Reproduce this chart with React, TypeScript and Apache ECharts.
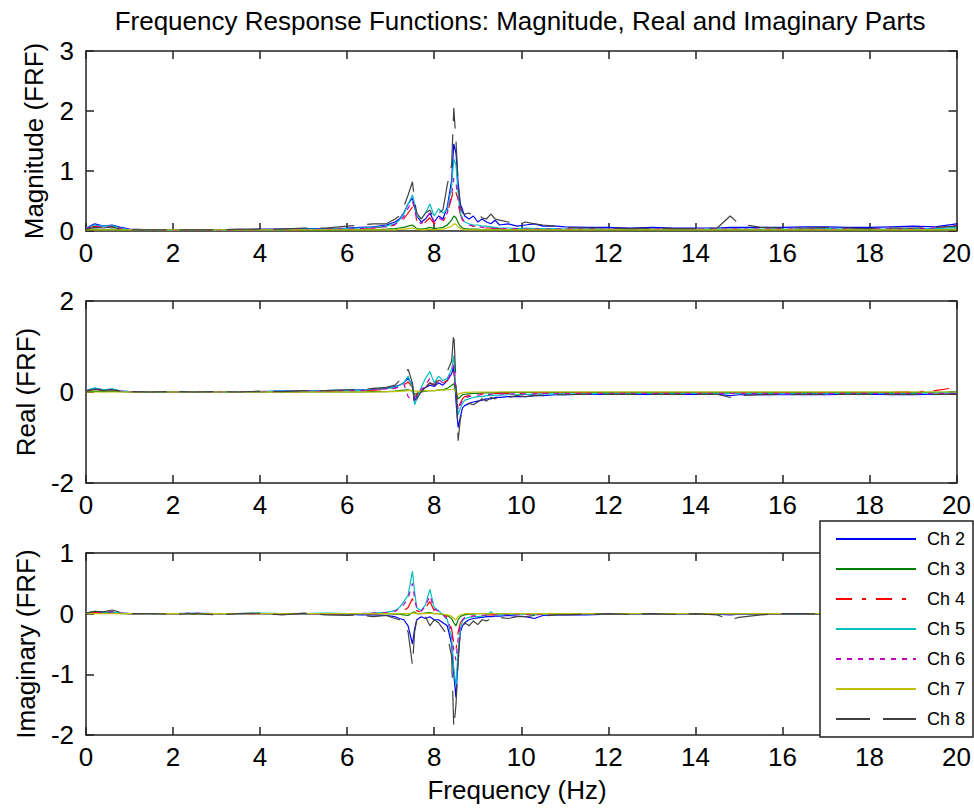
import React, { useEffect, useRef } from "react";
import * as echarts from "echarts";

// Frequency grid (Hz)
const freq = [
  0, 0.2, 0.4, 0.6, 0.8, 1.0, 1.5, 2.0, 2.5, 3.0,
  3.5, 4.0, 4.5, 5.0, 5.5, 6.0, 6.3, 6.6, 6.9, 7.1,
  7.2, 7.3, 7.4, 7.5, 7.55, 7.6, 7.7, 7.8, 7.9, 8.0,
  8.1, 8.2, 8.3, 8.4, 8.45, 8.5, 8.55, 8.6, 8.65, 8.7,
  8.8, 8.9, 9.0, 9.1, 9.2, 9.3, 9.4, 9.5, 9.7, 9.9,
  10.1, 10.3, 10.5, 10.8, 11.0, 11.5, 12.0, 12.5, 13.0, 13.5,
  14.0, 14.5, 14.8, 15.0, 15.5, 16.0, 16.5, 17.0, 17.5, 18.0,
  18.5, 19.0, 19.5, 20.0,
];

const channels = ["Ch 2", "Ch 3", "Ch 4", "Ch 5", "Ch 6", "Ch 7", "Ch 8"];

// ---------- Magnitude ----------
const magCh2 = [
  0.05, 0.12, 0.08, 0.10, 0.06, 0.03, 0.02, 0.02, 0.02, 0.02,
  0.02, 0.03, 0.03, 0.04, 0.04, 0.05, 0.06, 0.07, 0.10, 0.15,
  0.20, 0.30, 0.45, 0.55, 0.40, 0.25, 0.15, 0.20, 0.30, 0.15,
  0.25, 0.20, 0.40, 0.85, 1.45, 1.30, 0.80, 0.45, 0.35, 0.25,
  0.20, 0.25, 0.15, 0.20, 0.15, 0.12, 0.18, 0.10, 0.12, 0.08,
  0.10, 0.12, 0.08, 0.08, 0.07, 0.06, 0.06, 0.05, 0.06, 0.05,
  0.05, 0.05, 0.06, 0.06, 0.06, 0.06, 0.07, 0.07, 0.06, 0.06,
  0.07, 0.08, 0.07, 0.12,
];
const magCh3 = [
  0.02, 0.03, 0.02, 0.03, 0.02, 0.01, 0.01, 0.01, 0.01, 0.01,
  0.01, 0.01, 0.01, 0.01, 0.01, 0.02, 0.02, 0.02, 0.03, 0.04,
  0.05, 0.06, 0.08, 0.10, 0.07, 0.04, 0.03, 0.04, 0.06, 0.04,
  0.05, 0.06, 0.10, 0.18, 0.25, 0.22, 0.14, 0.08, 0.05, 0.04,
  0.03, 0.03, 0.03, 0.02, 0.02, 0.02, 0.02, 0.02, 0.02, 0.02,
  0.02, 0.02, 0.02, 0.02, 0.02, 0.02, 0.02, 0.02, 0.02, 0.02,
  0.02, 0.02, 0.02, 0.02, 0.02, 0.02, 0.02, 0.03, 0.02, 0.02,
  0.02, 0.02, 0.02, 0.03,
];
const magCh4 = [
  0.04, 0.08, 0.06, 0.07, 0.04, 0.02, 0.01, 0.01, 0.01, 0.01,
  0.01, 0.02, 0.02, 0.02, 0.03, 0.03, 0.04, 0.05, 0.07, 0.10,
  0.14, 0.20, 0.30, 0.40, 0.30, 0.18, 0.10, 0.15, 0.22, 0.12,
  0.18, 0.15, 0.30, 0.55, 0.72, 0.65, 0.45, 0.28, 0.18, 0.12,
  0.10, 0.08, 0.07, 0.06, 0.05, 0.05, 0.04, 0.04, 0.04, 0.03,
  0.03, 0.03, 0.03, 0.03, 0.03, 0.03, 0.03, 0.03, 0.03, 0.03,
  0.03, 0.03, 0.03, 0.03, 0.03, 0.03, 0.03, 0.03, 0.03, 0.03,
  0.03, 0.04, 0.04, 0.08,
];
const magCh5 = [
  0.05, 0.10, 0.08, 0.09, 0.05, 0.02, 0.01, 0.01, 0.02, 0.01,
  0.02, 0.02, 0.02, 0.03, 0.03, 0.04, 0.05, 0.06, 0.08, 0.12,
  0.18, 0.28, 0.45, 0.60, 0.45, 0.25, 0.20, 0.30, 0.45, 0.25,
  0.37, 0.30, 0.35, 0.75, 1.20, 1.10, 0.60, 0.30, 0.20, 0.15,
  0.12, 0.10, 0.10, 0.08, 0.08, 0.07, 0.06, 0.05, 0.05, 0.04,
  0.05, 0.04, 0.04, 0.04, 0.03, 0.03, 0.03, 0.03, 0.03, 0.03,
  0.03, 0.03, 0.03, 0.03, 0.03, 0.03, 0.03, 0.04, 0.03, 0.03,
  0.03, 0.04, 0.04, 0.06,
];
const magCh6 = [
  0.04, 0.09, 0.06, 0.08, 0.04, 0.02, 0.01, 0.01, 0.01, 0.01,
  0.01, 0.02, 0.02, 0.02, 0.03, 0.03, 0.04, 0.05, 0.07, 0.11,
  0.16, 0.24, 0.38, 0.50, 0.35, 0.20, 0.12, 0.20, 0.30, 0.15,
  0.22, 0.18, 0.30, 0.60, 0.88, 0.80, 0.50, 0.30, 0.20, 0.14,
  0.10, 0.08, 0.07, 0.06, 0.05, 0.05, 0.04, 0.04, 0.04, 0.04,
  0.03, 0.03, 0.03, 0.03, 0.03, 0.03, 0.03, 0.03, 0.03, 0.03,
  0.03, 0.03, 0.03, 0.03, 0.03, 0.03, 0.03, 0.03, 0.03, 0.04,
  0.03, 0.04, 0.05, 0.09,
];
const magCh7 = [
  0.02, 0.02, 0.02, 0.02, 0.02, 0.02, 0.02, 0.02, 0.02, 0.02,
  0.02, 0.02, 0.02, 0.02, 0.02, 0.02, 0.02, 0.02, 0.02, 0.02,
  0.03, 0.03, 0.04, 0.05, 0.04, 0.03, 0.02, 0.02, 0.03, 0.02,
  0.03, 0.03, 0.05, 0.08, 0.12, 0.11, 0.07, 0.04, 0.03, 0.02,
  0.02, 0.02, 0.02, 0.02, 0.02, 0.02, 0.02, 0.02, 0.02, 0.02,
  0.02, 0.02, 0.02, 0.02, 0.02, 0.02, 0.02, 0.02, 0.02, 0.02,
  0.02, 0.02, 0.02, 0.02, 0.02, 0.02, 0.02, 0.02, 0.02, 0.02,
  0.02, 0.02, 0.02, 0.02,
];
const magCh8 = [
  0.03, 0.06, 0.05, 0.07, 0.03, 0.02, 0.02, 0.02, 0.02, 0.02,
  0.03, 0.03, 0.03, 0.05, 0.05, 0.08, 0.10, 0.12, 0.12, 0.20,
  0.25, 0.40, 0.60, 0.82, 0.50, 0.30, 0.20, 0.30, 0.35, 0.20,
  0.30, 0.35, 0.77, 1.10, 2.05, 1.50, 0.80, 0.40, 0.30, 0.28,
  0.30, 0.25, 0.30, 0.22, 0.20, 0.28, 0.20, 0.18, 0.15, 0.10,
  0.15, 0.12, 0.10, 0.08, 0.06, 0.05, 0.05, 0.04, 0.05, 0.04,
  0.04, 0.05, 0.25, 0.12, 0.06, 0.05, 0.05, 0.06, 0.05, 0.04,
  0.05, 0.05, 0.06, 0.08,
];

// ---------- Real part ----------
const realCh2 = [
  0.03, 0.08, 0.05, 0.06, 0.02, 0.01, 0.00, 0.00, 0.01, 0.00,
  0.01, 0.01, 0.02, 0.02, 0.03, 0.04, 0.05, 0.06, 0.08, 0.12,
  0.15, 0.20, 0.30, 0.15, -0.20, -0.10, 0.05, 0.10, 0.15, 0.12,
  0.20, 0.15, 0.25, 0.40, 0.55, -0.20, -0.78, -0.55, -0.35, -0.30,
  -0.25, -0.22, -0.20, -0.18, -0.15, -0.15, -0.12, -0.12, -0.10, -0.10,
  -0.10, -0.08, -0.08, -0.06, -0.06, -0.05, -0.05, -0.05, -0.05, -0.05,
  -0.05, -0.05, -0.08, -0.06, -0.06, -0.06, -0.06, -0.06, -0.05, -0.05,
  -0.06, -0.06, -0.05, -0.04,
];
const realCh3 = [
  0.01, 0.02, 0.01, 0.02, 0.01, 0.00, 0.00, 0.00, 0.00, 0.00,
  0.00, 0.00, 0.00, 0.00, 0.00, 0.00, 0.00, 0.01, 0.01, 0.02,
  0.03, 0.04, 0.05, 0.02, -0.05, -0.03, 0.00, 0.02, 0.03, 0.03,
  0.04, 0.05, 0.08, 0.15, 0.18, 0.02, -0.15, -0.10, -0.06, -0.05,
  -0.04, -0.03, -0.03, -0.02, -0.02, -0.02, -0.02, -0.01, -0.01, -0.01,
  -0.01, -0.01, -0.01, -0.01, -0.01, -0.01, -0.01, -0.01, -0.01, -0.01,
  -0.01, -0.01, -0.01, -0.01, -0.01, -0.01, -0.01, -0.01, -0.01, -0.01,
  -0.01, -0.01, -0.01, -0.01,
];
const realCh4 = [
  0.02, 0.06, 0.04, 0.05, 0.02, 0.01, 0.00, 0.00, 0.00, 0.00,
  0.01, 0.01, 0.01, 0.01, 0.02, 0.03, 0.03, 0.04, 0.06, 0.08,
  0.10, 0.15, 0.22, 0.10, -0.15, -0.05, 0.05, 0.10, 0.20, 0.15,
  0.30, 0.20, 0.25, 0.35, 0.45, 0.10, -0.35, -0.25, -0.15, -0.10,
  -0.08, -0.06, -0.05, -0.04, -0.04, -0.03, -0.03, -0.03, -0.03, -0.03,
  -0.03, -0.02, -0.02, -0.02, -0.02, -0.02, -0.02, -0.02, -0.02, -0.02,
  -0.02, -0.02, -0.02, -0.02, -0.02, -0.02, -0.02, -0.02, -0.02, -0.02,
  -0.01, 0.00, 0.03, 0.10,
];
const realCh5 = [
  0.03, 0.09, 0.05, 0.07, 0.02, 0.01, 0.00, 0.00, 0.01, 0.00,
  0.01, 0.01, 0.02, 0.02, 0.03, 0.04, 0.04, 0.06, 0.08, 0.10,
  0.15, 0.20, 0.35, 0.10, -0.28, -0.15, 0.10, 0.30, 0.45, 0.20,
  0.35, 0.25, 0.30, 0.50, 0.80, 0.00, -0.50, -0.35, -0.25, -0.18,
  -0.15, -0.12, -0.10, -0.10, -0.08, -0.08, -0.07, -0.07, -0.06, -0.06,
  -0.05, -0.05, -0.04, -0.04, -0.04, -0.04, -0.03, -0.03, -0.03, -0.03,
  -0.03, -0.03, -0.03, -0.03, -0.03, -0.03, -0.03, -0.03, -0.03, -0.03,
  -0.03, -0.03, -0.02, 0.00,
];
const realCh6 = [
  0.02, 0.07, 0.04, 0.05, 0.02, 0.01, 0.00, 0.00, 0.00, 0.00,
  0.01, 0.01, 0.01, 0.02, 0.02, 0.03, 0.03, 0.05, 0.07, 0.08,
  0.12, 0.18, -0.10, -0.20, -0.12, -0.05, 0.05, 0.15, 0.30, 0.15,
  0.28, 0.20, 0.25, 0.45, 0.60, 0.05, -0.40, -0.28, -0.18, -0.12,
  -0.10, -0.08, -0.07, -0.06, -0.05, -0.05, -0.04, -0.04, -0.04, -0.04,
  -0.04, -0.04, -0.03, -0.03, -0.03, -0.03, -0.03, -0.03, -0.03, -0.03,
  -0.03, -0.03, -0.03, -0.03, -0.03, -0.03, -0.03, -0.03, -0.03, -0.03,
  -0.03, -0.03, -0.03, -0.03,
];
const realCh7 = [
  0.00, 0.00, 0.00, 0.00, 0.00, 0.00, 0.00, 0.00, 0.00, 0.00,
  0.00, 0.00, 0.00, 0.00, 0.00, 0.00, 0.00, 0.00, 0.01, 0.01,
  0.02, 0.02, 0.03, 0.03, 0.02, 0.02, 0.02, 0.03, 0.03, 0.03,
  0.04, 0.04, 0.05, 0.06, 0.06, 0.00, -0.05, -0.03, -0.02, -0.01,
  -0.01, 0.00, 0.00, 0.00, 0.00, 0.00, 0.00, 0.00, 0.00, 0.00,
  0.00, 0.00, 0.00, 0.00, 0.00, 0.00, 0.00, 0.00, 0.00, 0.00,
  0.00, 0.00, 0.00, 0.00, 0.00, 0.00, 0.00, 0.00, 0.00, 0.00,
  0.00, 0.00, 0.00, 0.00,
];
const realCh8 = [
  0.02, 0.06, 0.03, 0.05, 0.02, 0.01, 0.00, 0.01, 0.00, 0.01,
  0.00, 0.02, 0.01, 0.03, 0.03, 0.05, 0.05, 0.08, 0.10, 0.15,
  0.25, 0.35, 0.50, 0.20, -0.32, -0.15, 0.00, 0.10, 0.20, 0.15,
  0.25, 0.30, 0.45, 0.68, 1.33, 0.20, -1.07, -0.60, -0.40, -0.30,
  -0.25, -0.28, -0.22, -0.15, -0.20, -0.12, -0.15, -0.10, -0.12, -0.08,
  -0.10, -0.08, -0.07, -0.06, -0.06, -0.05, -0.05, -0.05, -0.05, -0.05,
  -0.05, -0.05, -0.12, -0.08, -0.06, -0.05, -0.05, -0.05, -0.05, -0.05,
  -0.05, -0.05, -0.05, -0.05,
];

// ---------- Imaginary part ----------
const imagCh2 = [
  0.01, 0.03, 0.02, 0.02, 0.01, 0.00, 0.00, 0.00, 0.00, 0.00,
  0.00, 0.00, -0.01, 0.00, -0.01, -0.01, -0.02, -0.02, -0.03, -0.05,
  -0.08, -0.10, -0.20, -0.50, -0.25, -0.10, -0.05, -0.08, -0.05, -0.10,
  -0.10, -0.15, -0.20, -0.50, -1.00, -1.38, -0.70, -0.30, -0.20, -0.15,
  -0.10, -0.08, -0.07, -0.06, -0.05, -0.05, -0.04, -0.04, -0.03, -0.04,
  -0.05, -0.08, -0.03, -0.02, -0.02, -0.02, -0.01, -0.01, -0.01, -0.01,
  -0.01, -0.01, -0.02, -0.01, -0.01, -0.01, -0.01, -0.01, -0.01, -0.01,
  -0.01, -0.01, -0.01, 0.00,
];
const imagCh3 = [
  0.01, 0.02, 0.01, 0.02, 0.00, 0.00, 0.00, 0.00, 0.00, 0.00,
  0.00, 0.00, 0.00, 0.00, 0.00, 0.00, 0.00, 0.00, 0.00, -0.01,
  -0.01, -0.02, -0.03, 0.02, 0.03, 0.00, 0.00, 0.01, 0.02, 0.00,
  0.00, -0.01, -0.03, -0.08, -0.15, -0.20, -0.10, -0.05, -0.03, -0.02,
  -0.01, -0.01, 0.00, 0.00, 0.00, 0.00, 0.00, 0.00, 0.00, 0.00,
  0.00, 0.00, 0.00, 0.00, 0.00, 0.00, 0.00, 0.00, 0.00, 0.00,
  0.00, 0.00, 0.00, 0.00, 0.00, 0.00, 0.00, 0.00, 0.00, 0.00,
  0.00, 0.00, 0.00, 0.00,
];
const imagCh4 = [
  0.01, 0.02, 0.01, 0.02, 0.01, 0.00, 0.00, 0.00, 0.00, 0.00,
  0.00, 0.00, 0.00, 0.00, 0.00, 0.00, 0.00, 0.00, 0.00, 0.00,
  0.02, 0.05, 0.10, 0.25, 0.12, 0.05, 0.02, 0.10, 0.20, 0.05,
  0.02, -0.02, -0.05, -0.25, -0.50, -0.60, -0.30, -0.15, -0.10, -0.06,
  -0.05, -0.04, -0.03, -0.03, -0.02, -0.02, -0.02, -0.01, -0.01, -0.01,
  -0.01, -0.01, -0.01, -0.01, 0.00, 0.00, 0.00, 0.00, 0.00, 0.00,
  0.00, 0.00, 0.00, 0.00, 0.00, 0.00, 0.00, 0.00, 0.00, 0.00,
  0.00, 0.00, 0.00, 0.00,
];
const imagCh5 = [
  0.01, 0.04, 0.02, 0.03, 0.01, 0.00, 0.00, 0.00, 0.01, 0.00,
  0.00, 0.01, 0.00, 0.00, 0.01, 0.00, 0.00, 0.01, 0.02, 0.05,
  0.10, 0.20, 0.30, 0.70, 0.35, 0.10, 0.05, 0.15, 0.40, 0.10,
  0.05, -0.02, -0.10, -0.40, -0.90, -1.20, -0.60, -0.25, -0.12, -0.08,
  -0.06, -0.05, -0.05, -0.04, -0.03, 0.03, -0.02, -0.02, -0.01, -0.01,
  -0.01, -0.02, -0.01, -0.01, 0.00, 0.00, 0.00, 0.00, 0.00, 0.00,
  0.00, 0.00, 0.00, 0.00, 0.00, 0.00, 0.00, 0.00, 0.00, 0.00,
  0.00, 0.00, 0.00, 0.00,
];
const imagCh6 = [
  0.01, 0.03, 0.02, 0.03, 0.01, 0.00, 0.00, 0.00, 0.01, 0.00,
  0.00, 0.00, 0.00, 0.00, 0.00, 0.00, 0.00, 0.01, 0.02, 0.04,
  0.08, 0.15, 0.25, 0.50, 0.25, 0.08, 0.04, 0.12, 0.30, 0.08,
  0.04, -0.02, -0.08, -0.30, -0.60, -0.77, -0.40, -0.18, -0.10, -0.06,
  -0.05, -0.04, -0.03, -0.03, -0.02, -0.02, -0.01, -0.01, -0.01, -0.01,
  -0.01, -0.02, -0.01, 0.00, 0.00, 0.00, 0.00, 0.00, 0.00, 0.00,
  0.00, 0.00, 0.00, 0.00, 0.00, 0.00, 0.00, 0.00, 0.00, 0.00,
  0.00, 0.00, 0.00, 0.00,
];
const imagCh7 = [
  0.00, 0.00, 0.00, 0.00, 0.00, 0.00, 0.00, 0.00, 0.00, 0.00,
  0.00, 0.00, 0.00, 0.00, 0.00, 0.00, 0.00, 0.00, 0.00, 0.00,
  0.00, 0.00, 0.00, 0.01, 0.01, 0.00, 0.00, 0.00, 0.01, 0.00,
  0.00, -0.01, -0.02, -0.04, -0.08, -0.10, -0.05, -0.02, -0.01, 0.00,
  0.00, 0.00, 0.00, 0.00, 0.00, 0.00, 0.00, 0.00, 0.00, 0.00,
  0.00, 0.00, 0.00, 0.00, 0.00, 0.00, 0.00, 0.00, 0.00, 0.00,
  0.00, 0.00, 0.00, 0.00, 0.00, 0.00, 0.00, 0.00, 0.00, 0.00,
  0.00, 0.00, 0.00, 0.00,
];
const imagCh8 = [
  0.01, 0.04, 0.03, 0.06, 0.02, 0.00, 0.00, -0.01, 0.00, -0.02,
  0.00, 0.01, -0.02, 0.01, -0.02, -0.03, -0.02, -0.05, -0.03, -0.08,
  -0.10, -0.15, -0.30, -0.85, -0.30, -0.10, -0.15, -0.05, -0.20, -0.10,
  -0.15, -0.25, -0.35, -0.70, -1.88, -1.50, -0.80, -0.30, -0.25, -0.15,
  -0.20, -0.12, -0.18, -0.10, -0.12, -0.08, -0.10, -0.06, -0.08, -0.05,
  -0.05, -0.03, -0.04, -0.02, -0.02, -0.01, 0.00, -0.01, 0.00, -0.01,
  0.00, -0.02, -0.10, -0.06, -0.02, 0.00, 0.00, -0.01, 0.00, 0.00,
  -0.01, 0.00, 0.00, 0.00,
];

const magData = [magCh2, magCh3, magCh4, magCh5, magCh6, magCh7, magCh8];
const realData = [realCh2, realCh3, realCh4, realCh5, realCh6, realCh7, realCh8];
const imagData = [imagCh2, imagCh3, imagCh4, imagCh5, imagCh6, imagCh7, imagCh8];

const xTicks = { min: 0, max: 20, interval: 2 };
const yRanges = [
  { min: 0, max: 3, interval: 1 },
  { min: -2, max: 2, interval: 2 },
  { min: -2, max: 1, interval: 1 },
];
const yNames = ["Magnitude (FRF)", "Real (FRF)", "Imaginary (FRF)"];
const titleText = "Frequency Response Functions: Magnitude, Real and Imaginary Parts";
const xName = "Frequency (Hz)";

const colors = ["#0000ff", "#008000", "#ff0000", "#00bfbf", "#bf00bf", "#bfbf00", "#404040"];
const dashes: any[] = ["solid", "solid", [16, 10, 4, 10], "solid", [5, 6], "solid", [34, 13]];

const FONT = "'Liberation Sans', Arial, Helvetica, sans-serif";
const AX = "#222222";

export default function App() {
  const ref = useRef<HTMLDivElement>(null);

  useEffect(() => {
    document.body.style.margin = "0";
    const chart = echarts.init(ref.current!, null, { renderer: "svg" });

    const grids = [
      { left: 86, top: 51, width: 872, height: 180 },
      { left: 86, top: 301, width: 872, height: 182 },
      { left: 86, top: 553, width: 872, height: 182 },
    ];

    const lineCommon = { lineStyle: { color: AX, width: 1.5 } };
    const tickCommon = { show: true, inside: true, length: 8, lineStyle: { color: AX, width: 1.5 } };

    const xAxes: any[] = [];
    const yAxes: any[] = [];
    grids.forEach((_, g) => {
      xAxes.push({
        type: "value", gridIndex: g, ...xTicks, position: "bottom",
        axisLine: { show: true, onZero: false, ...lineCommon },
        axisTick: tickCommon,
        axisLabel: { show: true, fontSize: 26, color: "#000", margin: 9, fontFamily: FONT, showMinLabel: true, showMaxLabel: true },
        splitLine: { show: false },
      });
      xAxes.push({
        type: "value", gridIndex: g, ...xTicks, position: "top",
        axisLine: { show: true, onZero: false, ...lineCommon },
        axisTick: tickCommon,
        axisLabel: { show: false },
        splitLine: { show: false },
      });
      yAxes.push({
        type: "value", gridIndex: g, ...yRanges[g], position: "left",
        axisLine: { show: true, onZero: false, ...lineCommon },
        axisTick: tickCommon,
        axisLabel: { show: true, fontSize: 26, color: "#000", margin: 12, fontFamily: FONT, showMinLabel: true, showMaxLabel: true },
        splitLine: { show: false },
      });
      yAxes.push({
        type: "value", gridIndex: g, ...yRanges[g], position: "right",
        axisLine: { show: true, onZero: false, ...lineCommon },
        axisTick: tickCommon,
        axisLabel: { show: false },
        splitLine: { show: false },
      });
    });

    const series: any[] = [];
    [magData, realData, imagData].forEach((set, g) => {
      set.forEach((vals, c) => {
        series.push({
          type: "line",
          name: channels[c],
          xAxisIndex: 2 * g,
          yAxisIndex: 2 * g,
          data: freq.map((f, i) => [f, vals[i]]),
          symbol: "none",
          showSymbol: false,
          silent: true,
          clip: true,
          color: colors[c],
          itemStyle: { color: colors[c] },
          lineStyle: { color: colors[c], width: 1.2, type: dashes[c] },
        });
      });
    });

    const graphic: any[] = [
      {
        type: "text", x: 520, y: 21,
        style: { text: titleText, font: `26px ${FONT}`, fill: "#000", textAlign: "center", textVerticalAlign: "middle" },
      },
      {
        type: "text", x: 517, y: 790,
        style: { text: xName, font: `26px ${FONT}`, fill: "#000", textAlign: "center", textVerticalAlign: "middle" },
      },
      {
        type: "text", x: 34, y: 141, rotation: Math.PI / 2,
        style: { text: yNames[0], font: `26px ${FONT}`, fill: "#000", textAlign: "center", textVerticalAlign: "middle" },
      },
      {
        type: "text", x: 26, y: 392, rotation: Math.PI / 2,
        style: { text: yNames[1], font: `26px ${FONT}`, fill: "#000", textAlign: "center", textVerticalAlign: "middle" },
      },
      {
        type: "text", x: 26, y: 644, rotation: Math.PI / 2,
        style: { text: yNames[2], font: `26px ${FONT}`, fill: "#000", textAlign: "center", textVerticalAlign: "middle" },
      },
    ];

    chart.setOption({
      animation: false,
      backgroundColor: "#ffffff",
      grid: grids,
      xAxis: xAxes,
      yAxis: yAxes,
      series,
      graphic,
      legend: {
        data: channels,
        orient: "vertical",
        left: 820,
        top: 521,
        itemWidth: 80,
        itemHeight: 14,
        itemGap: 12,
        padding: [9, 8, 9, 15],
        backgroundColor: "#ffffff",
        borderColor: AX,
        borderWidth: 1.5,
        borderRadius: 0,
        selectedMode: false,
        itemStyle: { opacity: 0, borderWidth: 0 },
        lineStyle: { width: 2 },
        textStyle: { fontSize: 18, color: "#000", fontFamily: FONT, padding: [0, 0, 0, 6] },
        z: 10,
      },
    });

    return () => chart.dispose();
  }, []);

  return <div ref={ref} style={{ width: 974, height: 810 }} />;
}
